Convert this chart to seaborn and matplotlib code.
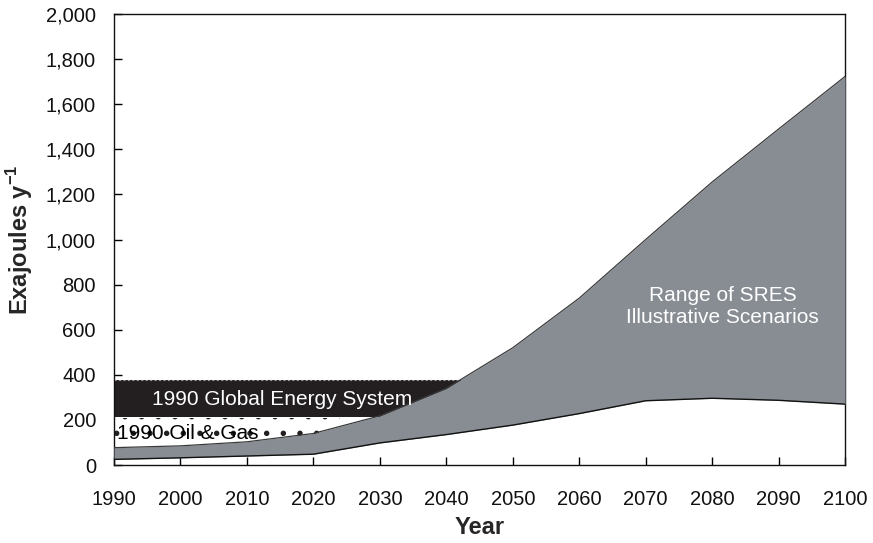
import matplotlib
matplotlib.use("Agg")
import matplotlib.pyplot as plt
import seaborn as sns
import pandas as pd

# SRES scenario envelope (EJ per year)
years = [1990, 2000, 2010, 2020, 2030, 2040, 2050, 2060, 2070, 2080, 2090, 2100]
upper = [77, 85, 103, 140, 218, 340, 520, 740, 1000, 1255, 1490, 1723]
lower = [25, 32, 40, 48, 98, 135, 177, 228, 285, 296, 287, 270]

# 1990 reference levels (EJ per year)
energy_1990 = [215, 375]
oil_gas_1990 = [85, 208]
energy_span = [1990, 2045]
oil_gas_span = [1990, 2024]

x_ticks = list(range(1990, 2101, 10))
y_ticks = list(range(0, 2001, 200))

df = pd.DataFrame({"year": years, "upper": upper, "lower": lower})

sns.set_theme(style="white")
plt.rcParams["font.family"] = ["Liberation Sans", "DejaVu Sans"]
plt.rcParams["mathtext.fontset"] = "custom"
plt.rcParams["mathtext.rm"] = "Liberation Sans"
plt.rcParams["mathtext.bf"] = "Liberation Sans:bold"
plt.rcParams["hatch.linewidth"] = 1.5

fig = plt.figure(figsize=(8.73, 5.43), dpi=100)
ax = fig.add_axes([0.1306, 0.1436, 0.8374, 0.8306])

grey = "#878d93"
black = "#231f20"

# 1990 oil & gas (dotted) and total energy system (black) bands
ax.fill_between(oil_gas_span, oil_gas_1990[0], oil_gas_1990[1], facecolor="white",
                edgecolor=black, hatch=".", linewidth=0, zorder=1)
ax.fill_between(energy_span, energy_1990[0], energy_1990[1], color=black,
                linewidth=0, zorder=2)
ax.plot(energy_span, [energy_1990[1]] * 2, color="#9a9a9a", lw=0.8,
        ls=(0, (2, 2)), zorder=2.5)

# Scenario range
ax.fill_between(df["year"], df["lower"], df["upper"], color=grey,
                linewidth=0, zorder=3)
sns.lineplot(data=df, x="year", y="upper", color="#3a3a3a", lw=0.9, ax=ax, zorder=4)
sns.lineplot(data=df, x="year", y="lower", color="#111111", lw=1.0, ax=ax, zorder=4)

ax.text(1995.7, 290, "1990 Global Energy System", color="white", fontsize=15,
        va="center", ha="left", zorder=5)
ax.text(1990.4, 138, "1990 Oil & Gas", color="black", fontsize=15,
        va="center", ha="left", zorder=5)
ax.text(2081.6, 702, "Range of SRES\nIllustrative Scenarios", color="white",
        fontsize=15, va="center", ha="center", linespacing=1.2, zorder=5)

ax.set_xlim(1990, 2100)
ax.set_ylim(0, 2000)
ax.set_xticks(x_ticks)
ax.set_yticks(y_ticks)
ax.set_yticklabels([f"{v:,}" for v in y_ticks])
ax.tick_params(axis="both", direction="in", length=6, width=1, color="black",
               labelsize=14.5, labelcolor="#111111")
ax.tick_params(axis="x", pad=18, bottom=True)
ax.tick_params(axis="y", pad=13, left=True)

for s in ax.spines.values():
    s.set_color("#111111")
    s.set_linewidth(1.0)

ax.set_xlabel("Year", fontsize=17, fontweight="bold", labelpad=5)
ax.set_ylabel(r"Exajoules y$^{\mathbf{-1}}$", fontsize=17, fontweight="bold", labelpad=8)

fig.savefig("out.png", dpi=100)
